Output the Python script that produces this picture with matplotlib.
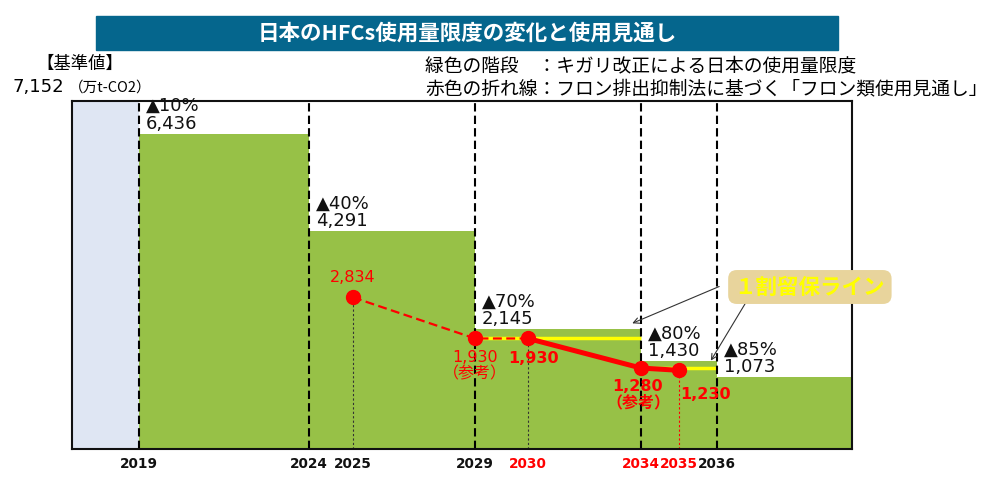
import numpy as np
import matplotlib
matplotlib.use('Agg')
import matplotlib.pyplot as plt
from matplotlib.patches import Rectangle

plt.rcParams['font.family'] = ['DejaVu Sans', 'Noto Sans CJK JP']
jp = ['Noto Sans CJK JP', 'DejaVu Sans']

# ---- data ----
base_val = 7152
step_years = [2019, 2024, 2029, 2034, 2036, 2040]
limit_vals = [6436, 4291, 2145, 1430, 1073]
cut_labels = ['▲10%', '▲40%', '▲70%', '▲80%', '▲85%']

reserve_years = [2029, 2034, 2036]
reserve_vals = [1930, 1290]

proj_years = [2025, 2029, 2030, 2034, 2035]
proj_vals = [2834, 1930, 1930, 1280, 1230]
proj_notes = ['', '\n（参考）', '', '\n（参考）', '']
proj_bold = [False, False, True, True, True]

tick_years = [2019, 2024, 2025, 2029, 2030, 2034, 2035, 2036]
tick_red = [False, False, False, False, True, True, True, False]

# colours
c_green = '#97C147'
c_base = '#DFE6F3'
c_red = '#FF0000'
c_title = '#05668D'

fig = plt.figure(figsize=(10, 4.8), dpi=100)
ax = fig.add_axes([0.072, 0.0646, 0.78, 0.725])

# schematic (uneven) year axis, as in the original slide
knot_years = [2017, 2019, 2024, 2025, 2029, 2030, 2034, 2035, 2036, 2040]
knot_pos = [72, 139, 309, 353, 475, 528, 641, 679, 717, 852]
ax.set_xscale('function', functions=(lambda x: np.interp(x, knot_years, knot_pos),
                                     lambda p: np.interp(p, knot_pos, knot_years)))
ymin = -500

# base value area
ax.bar(2017, base_val - ymin, width=step_years[0] - 2017, bottom=ymin, align='edge',
       color=c_base, zorder=1)

# green stairs
widths = np.diff(step_years)
ax.bar(step_years[:-1], np.array(limit_vals) - ymin, width=widths, bottom=ymin,
       align='edge', color=c_green, zorder=1)

# 10% reserve lines
for i, v in enumerate(reserve_vals):
    ax.plot([reserve_years[i], reserve_years[i + 1]], [v, v], color='#FFFF00', lw=2.5,
            zorder=2, solid_capstyle='butt')

# step boundaries
for yr in step_years[:-1]:
    ax.axvline(yr, color='black', lw=1.5, ls=(0, (4, 2)), zorder=3)

# step labels
for i, v in enumerate(limit_vals):
    ax.annotate(cut_labels[i] + '\n' + f'{v:,}', xy=(step_years[i], v),
                xytext=(7, 1), textcoords='offset pixels', ha='left', va='bottom',
                fontsize=13, linespacing=0.95, color='#111111', zorder=5)

# thin drop lines from projection points
drop_colors = {2025: '#333333', 2030: '#333333', 2035: c_red}
for yr, v in zip(proj_years, proj_vals):
    if yr in drop_colors:
        ax.plot([yr, yr], [ymin, v], color=drop_colors[yr], lw=0.8, ls=(0, (2, 2)), zorder=3)

# red projection line
ax.plot(proj_years[:3], proj_vals[:3], color=c_red, lw=1.6, ls=(0, (4, 2)), zorder=4)
ax.plot(proj_years[2:], proj_vals[2:], color=c_red, lw=3.6, zorder=4)
ax.plot(proj_years, proj_vals, 'o', color=c_red, ms=10, zorder=4)

label_offsets = [(0, 12, 'bottom'), (0, -12, 'top'), (5, -13, 'top'), (-3, -11, 'top'), (27, -17, 'top')]
for i, v in enumerate(proj_vals):
    dx, dy, va = label_offsets[i]
    ax.annotate(f'{v:,}' + proj_notes[i], xy=(proj_years[i], v), xytext=(dx, dy),
                textcoords='offset pixels', ha='center', va=va, color=c_red,
                fontsize=11.5, fontweight='bold' if proj_bold[i] else 'normal',
                linespacing=1.05, zorder=5)

# reserve line callout
ax.text(0.946, 0.4655, '１割留保ライン', transform=ax.transAxes, ha='center', va='center',
        fontsize=15.5, fontweight='bold', color='#FFFF00', family=jp, zorder=10, clip_on=False,
        bbox=dict(boxstyle='round,pad=0.3,rounding_size=0.4', fc='#E8D49C', ec='none'))
ax.annotate('', xy=(2033.6, 2240), xytext=(0.833, 0.47), textcoords='axes fraction',
            arrowprops=dict(arrowstyle='->', color='#333333', lw=0.8), zorder=6)
ax.annotate('', xy=(2035.8, 1390), xytext=(0.865, 0.425), textcoords='axes fraction',
            arrowprops=dict(arrowstyle='->', color='#333333', lw=0.8), zorder=6)

ax.set_xlim(2017, 2040)
ax.set_ylim(ymin, base_val)
ax.set_yticks([])
ax.set_xticks(tick_years)
ax.set_xticklabels([str(y) for y in tick_years], fontsize=9.8, fontweight='bold')
for lab, red in zip(ax.get_xticklabels(), tick_red):
    lab.set_color(c_red if red else '#111111')
ax.tick_params(axis='x', length=0, pad=5.5)
ax.minorticks_off()
for s in ax.spines.values():
    s.set_linewidth(1.5)
    s.set_color('#111111')
    s.set_zorder(6)

# title bar
fig.patches.append(Rectangle((0.096, 0.8958), 0.742, 0.0708, transform=fig.transFigure,
                             color=c_title, zorder=0))
fig.text(0.467, 0.931, '日本のHFCs使用量限度の変化と使用見通し', ha='center', va='center',
         color='white', fontsize=15.5, fontweight='bold', family=jp)

# base value text
fig.text(0.080, 1 - 64 / 480, '【基準値】', ha='center', va='center', fontsize=12.5,
         fontweight='normal', family=jp)
fig.text(0.012, 1 - 87 / 480, f'{base_val:,}', ha='left', va='center', fontsize=13)
fig.text(0.069, 1 - 88 / 480, '（万t-CO2）', ha='left', va='center', fontsize=10.5, family=jp)

# legend text
fig.text(0.425, 1 - 66 / 480, '緑色の階段　：キガリ改正による日本の使用量限度', ha='left',
         va='center', fontsize=13.5, family=jp)
fig.text(0.425, 1 - 89 / 480, '赤色の折れ線：フロン排出抑制法に基づく「フロン類使用見通し」',
         ha='left', va='center', fontsize=13.5, family=jp)

fig.savefig('out.png', dpi=100)
